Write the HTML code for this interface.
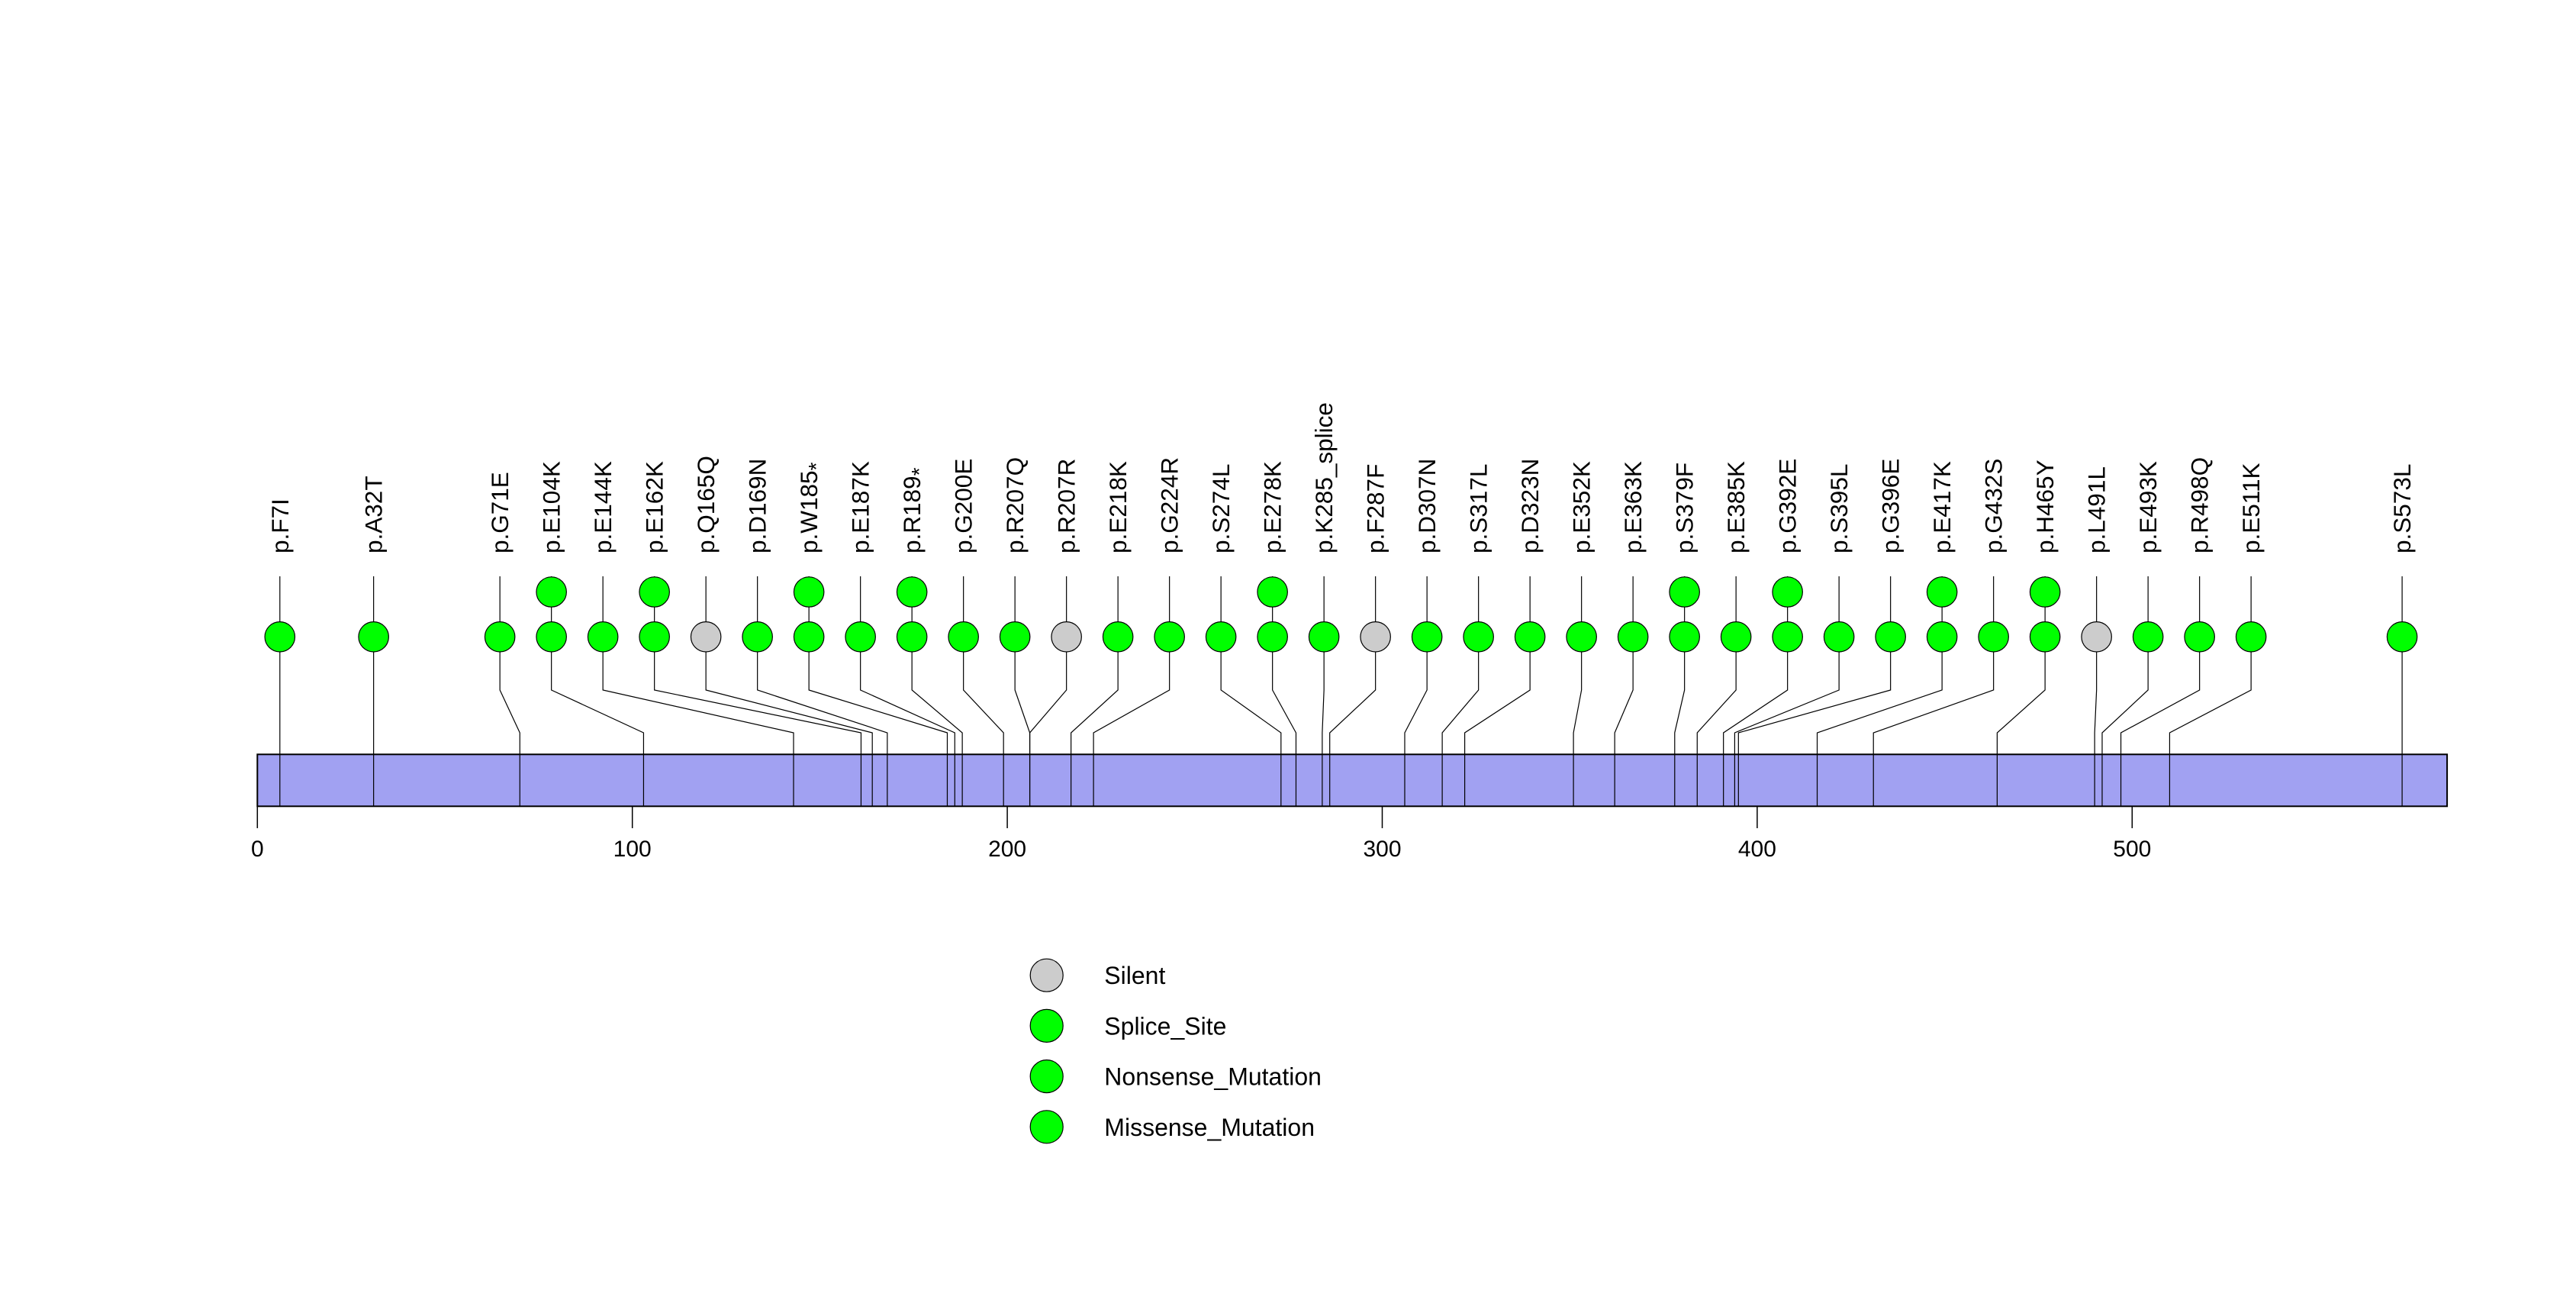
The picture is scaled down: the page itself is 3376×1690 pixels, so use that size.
<!DOCTYPE html>
<html><head><meta charset="utf-8"><style>
html,body{margin:0;padding:0;background:#fff;}
svg{display:block;font-family:"Liberation Sans",Arial,sans-serif;}
</style></head><body>
<svg id="chart" width="3376" height="1690" viewBox="0 0 3376 1690"></svg>
<script>
const labels = ["p.F7I","p.A32T","p.G71E","p.E104K","p.E144K","p.E162K","p.Q165Q","p.D169N","p.W185*","p.E187K","p.R189*","p.G200E","p.R207Q","p.R207R","p.E218K","p.G224R","p.S274L","p.E278K","p.K285_splice","p.F287F","p.D307N","p.S317L","p.D323N","p.E352K","p.E363K","p.S379F","p.E385K","p.G392E","p.S395L","p.G396E","p.E417K","p.G432S","p.H465Y","p.L491L","p.E493K","p.R498Q","p.E511K","p.S573L"];
const positions = [7,32,71,104,144,162,165,169,185,187,189,200,207,207,218,224,274,278,285,287,307,317,323,352,363,379,385,392,395,396,417,432,465,491,493,498,511,573];
const counts = [1,1,1,2,1,2,1,1,2,1,2,1,1,1,1,1,1,2,1,1,1,1,1,1,1,2,1,2,1,1,2,1,2,1,1,1,1,1];
const types = ["M","M","M","M","M","M","S","M","N","M","N","M","M","S","M","M","M","M","P","S","M","M","M","M","M","M","M","M","M","M","M","M","M","S","M","M","M","M"];
const proteinLength = 585;
const axisTicks = [0,100,200,300,400,500];
const legendLabels = ["Silent","Splice_Site","Nonsense_Mutation","Missense_Mutation"];
const legendColors = ["#cccccc","#00ff00","#00ff00","#00ff00"];

const NS="http://www.w3.org/2000/svg";
const svg=document.getElementById('chart');
const X0=337.3, U=4.914;
const xTick=v=>X0+v*U;
const xPos=p=>X0+(p-1)*U;
const RECT_T=988.3, RECT_B=1056.3;
const LOW_Y=834.3, STEP_Y=58.8, R=19.7;
const STEM_TOP=755, ELB_T=904, ELB_B=960;
const GAP=67.5;
function mk(tag,attrs,parent){const e=document.createElementNS(NS,tag);for(const k in attrs)e.setAttribute(k,attrs[k]);(parent||svg).appendChild(e);return e;}

let clusters=positions.map((p,i)=>({idx:[i],center:xPos(p)}));
let changed=true;
while(changed){changed=false;
  for(let i=0;i<clusters.length-1;i++){
    const a=clusters[i],b=clusters[i+1];
    const aRight=a.center+(a.idx.length-1)*GAP/2;
    const bLeft=b.center-(b.idx.length-1)*GAP/2;
    if(bLeft-aRight<GAP-0.01){
      const idx=a.idx.concat(b.idx);
      const c=idx.reduce((s,j)=>s+xPos(positions[j]),0)/idx.length;
      clusters.splice(i,2,{idx:idx,center:c});changed=true;break;
    }
  }
}
const lx=[];
clusters.forEach(c=>{c.idx.forEach((j,k)=>{lx[j]=c.center+(k-(c.idx.length-1)/2)*GAP;});});

const rect=mk('rect',{x:xTick(0),y:RECT_T,width:(proteinLength-1)*U,height:RECT_B-RECT_T,fill:'#a1a1f2',stroke:'#000','stroke-width':2});



const ax=mk('line',{x1:xTick(0),x2:xTick(axisTicks[axisTicks.length-1]),y1:RECT_B,y2:RECT_B,stroke:'#000','stroke-width':1.5});


axisTicks.forEach(v=>{
  const t=mk('line',{x1:xTick(v),x2:xTick(v),y1:RECT_B,y2:1085,stroke:'#000','stroke-width':1.5});
  
  
  const tl=mk('text',{x:xTick(v),y:1122,'font-size':30,'text-anchor':'middle',fill:'#000'});
  tl.textContent=v;
  
  
});

positions.forEach((p,i)=>{
  const x=lx[i], px=xPos(p);
  const path=mk('path',{d:`M${x},${STEM_TOP} L${x},${ELB_T} L${px},${ELB_B} L${px},${RECT_B}`,fill:'none',stroke:'#000','stroke-width':1.2});
  
  
  for(let k=0;k<counts[i];k++){
    const col=types[i]==='S'?'#cccccc':'#00ff00';
    const c=mk('circle',{cx:x,cy:LOW_Y-k*STEP_Y,r:R,fill:col,stroke:'#000','stroke-width':1.2});
    
    
  }
  const t=mk('text',{x:0,y:0,'font-size':31.5,fill:'#000',transform:`translate(${x+11},725) rotate(-90)`});
  const lab=labels[i];
  if(lab.endsWith('*')){
    t.appendChild(document.createTextNode(lab.slice(0,-1)));
    const ts=mk('tspan',{dy:8,'font-size':28},t);
    ts.textContent='*';
  } else {
    t.textContent=lab;
  }
  
  
});

legendLabels.forEach((l,i)=>{
  const y=1277.7+i*66.2;
  const c=mk('circle',{cx:1371.7,cy:y,r:21.5,fill:legendColors[i],stroke:'#000','stroke-width':1.2});
  
  
  const t=mk('text',{x:1447.3,y:y+11.5,'font-size':32,fill:'#000'});
  t.textContent=l;
  
  
});
</script>
</body></html>
